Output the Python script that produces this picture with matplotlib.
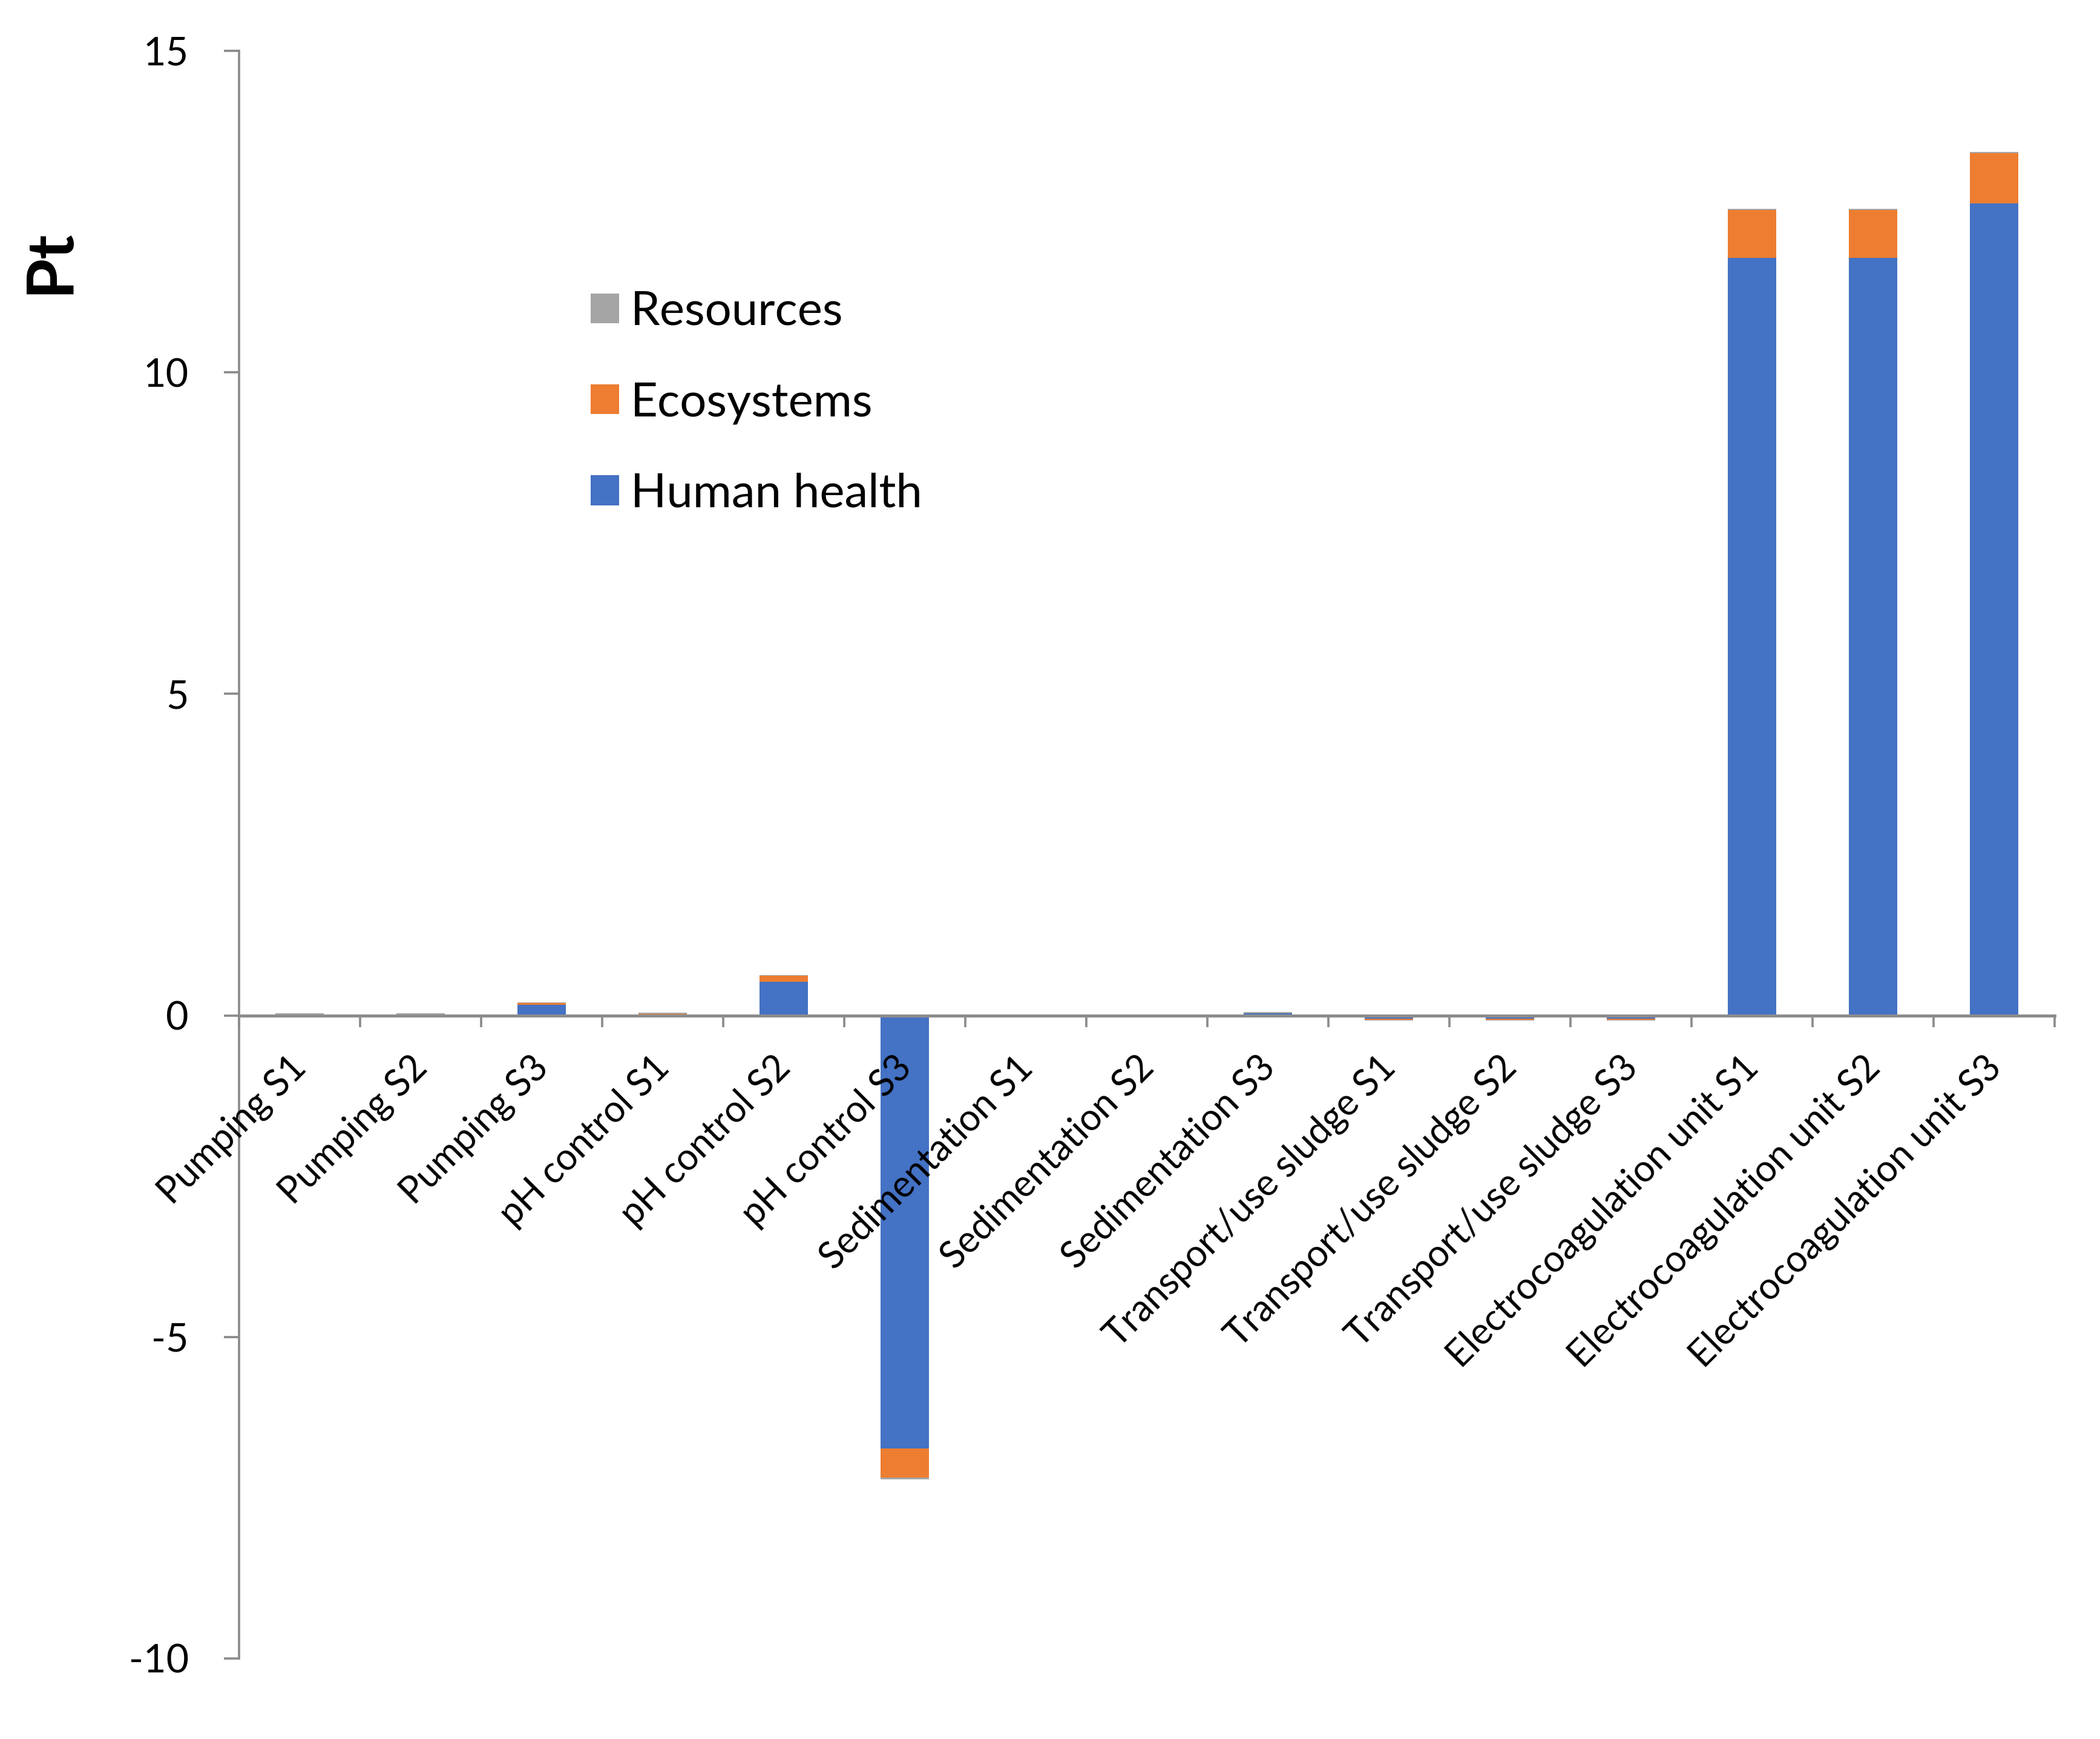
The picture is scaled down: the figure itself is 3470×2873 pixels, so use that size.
import matplotlib.pyplot as plt
import numpy as np

plt.rcParams['font.family'] = ['Lato', 'DejaVu Sans']

# categories and impact values (Pt)
processes = ['Pumping S1', 'Pumping S2', 'Pumping S3',
             'pH control S1', 'pH control S2', 'pH control S3',
             'Sedimentation S1', 'Sedimentation S2', 'Sedimentation S3',
             'Transport/use sludge S1', 'Transport/use sludge S2', 'Transport/use sludge S3',
             'Electrocoagulation unit S1', 'Electrocoagulation unit S2', 'Electrocoagulation unit S3']
human_health = [0.002, 0.002, 0.17, 0.012, 0.52, -6.73, 0.0, 0.0, 0.03,
                -0.05, -0.05, -0.05, 11.78, 11.78, 12.63]
ecosystems = [0.001, 0.001, 0.025, 0.012, 0.1, -0.46, 0.0, 0.0, 0.002,
              -0.02, -0.02, -0.02, 0.74, 0.74, 0.78]
resources = [0.035, 0.035, 0.005, 0.015, 0.005, -0.02, 0.0, 0.0, 0.02,
             -0.005, -0.005, -0.005, 0.02, 0.02, 0.02]

series = [('Human health', human_health, '#4472C4'),
          ('Ecosystems', ecosystems, '#ED7D31'),
          ('Resources', resources, '#A5A5A5')]

fig = plt.figure(figsize=(3470 / 300, 2873 / 300), dpi=300)
ax = fig.add_axes([395 / 3470, 1 - 2740 / 2873, 3000 / 3470, (2740 - 84) / 2873])

x = np.arange(len(processes))
pos_base = np.zeros(len(processes))
neg_base = np.zeros(len(processes))
handles = []
for name, vals, col in series:
    v = np.array(vals)
    bottom = np.where(v >= 0, pos_base, neg_base)
    b = ax.bar(x, v, 0.4, bottom=bottom, color=col, label=name, zorder=2)
    handles.append(b)
    pos_base += np.where(v >= 0, v, 0)
    neg_base += np.where(v < 0, v, 0)

axis_col = '#8C8C8C'
ax.set_xlim(-0.5, len(processes) - 0.5)
ax.set_ylim(-10, 15)
ax.set_yticks([-10, -5, 0, 5, 10, 15])
ax.set_yticklabels(['-10', '-5', '0', '5', '10', '15'])

for s in ['top', 'right']:
    ax.spines[s].set_visible(False)
ax.spines['bottom'].set_position(('data', 0))
ax.spines['bottom'].set_color(axis_col)
ax.spines['bottom'].set_linewidth(1.2)
ax.spines['bottom'].set_zorder(3)
ax.spines['left'].set_color(axis_col)
ax.spines['left'].set_linewidth(0.9)

# ticks between the categories, labels placed by hand under the axis
ax.set_xticks(np.arange(len(processes) + 1) - 0.5)
ax.set_xticklabels([])
ax.tick_params(axis='x', direction='out', length=4.5, width=0.9, color=axis_col)
ax.tick_params(axis='y', direction='out', length=6, width=0.9, color=axis_col,
               labelsize=15.5, pad=14)

for i, lab in enumerate(processes):
    ax.annotate(lab, xy=(i, 0), xycoords='data', xytext=(0.5, -18.5),
                textcoords='offset points', rotation=45, rotation_mode='anchor',
                ha='right', va='center', fontsize=14.6)

ax.set_ylabel('Pt', fontsize=26, fontweight='bold')
ax.yaxis.set_label_coords(-0.088, 0.869)

ax.legend(handles[::-1], [h.get_label() for h in handles[::-1]],
          loc='upper left', bbox_to_anchor=(0.1937, 0.851), frameon=False,
          fontsize=18.7, handlelength=0.6, handleheight=0.6,
          handletextpad=0.25, labelspacing=1.02, borderpad=0, borderaxespad=0)

fig.savefig('out.png', dpi=300)
